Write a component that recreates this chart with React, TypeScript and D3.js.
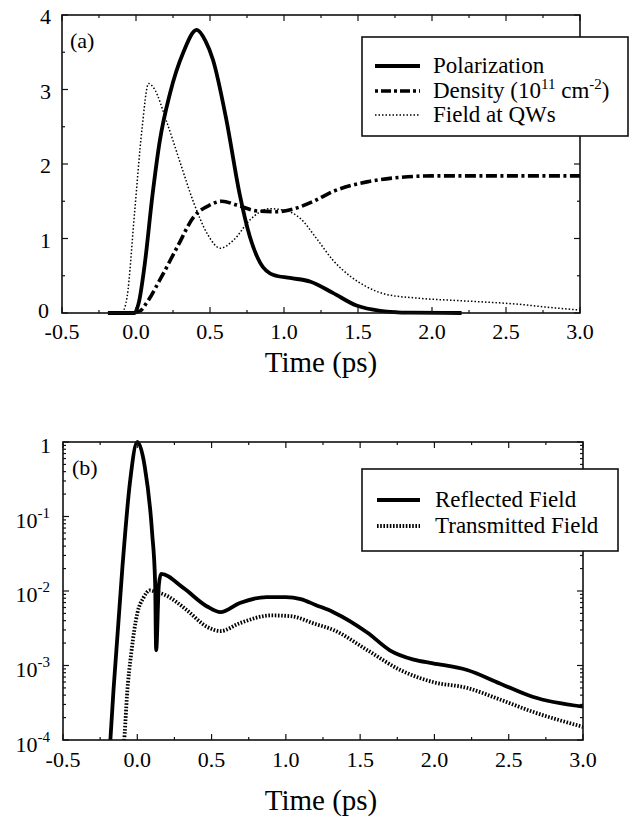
import React, { useEffect, useRef } from "react";
import * as d3 from "d3";

// panel (a) - linear
const polarization: [number, number][] = [
  [-0.19, 0], [-0.01, 0], [0.02, 0.15], [0.06, 0.67], [0.11, 1.56], [0.16, 2.3],
  [0.23, 2.95], [0.32, 3.5], [0.41, 3.8], [0.47, 3.65], [0.52, 3.4], [0.61, 2.6],
  [0.7, 1.6], [0.77, 1.02], [0.84, 0.67], [0.93, 0.51], [1.04, 0.47], [1.18, 0.42],
  [1.33, 0.27], [1.49, 0.1], [1.65, 0.03], [1.85, 0.005], [2.2, 0],
];
const density: [number, number][] = [
  [-0.02, 0], [0.03, 0.03], [0.07, 0.13], [0.16, 0.44], [0.28, 0.89], [0.39, 1.29],
  [0.5, 1.45], [0.58, 1.5], [0.68, 1.45], [0.82, 1.37], [0.95, 1.36], [1.05, 1.39],
  [1.2, 1.5], [1.33, 1.63], [1.56, 1.76], [1.78, 1.82], [2.0, 1.84], [3.0, 1.84],
];
const fieldQW: [number, number][] = [
  [-0.12, 0], [-0.09, 0.02], [-0.06, 0.22], [-0.01, 1.34], [0.04, 2.46], [0.085, 3.08],
  [0.12, 3.02], [0.21, 2.55], [0.3, 2.01], [0.39, 1.48], [0.48, 1.07], [0.57, 0.87],
  [0.66, 0.98], [0.77, 1.25], [0.9, 1.4], [1.0, 1.38], [1.11, 1.27], [1.22, 1.0],
  [1.33, 0.71], [1.45, 0.49], [1.56, 0.35], [1.69, 0.25], [1.9, 0.2], [2.24, 0.16],
  [2.57, 0.12], [2.82, 0.07], [3.0, 0.04],
];

// panel (b) - log
const reflected: [number, number][] = [
  [-0.2, 2.5e-5], [-0.16, 4.7e-4], [-0.1, 0.021], [-0.05, 0.28], [0.0, 1.0],
  [0.05, 0.47], [0.1, 0.06], [0.12, 0.013], [0.127, 1.6e-3], [0.145, 0.012],
  [0.16, 0.017], [0.31, 0.011], [0.47, 6.2e-3], [0.56, 5.2e-3], [0.69, 6.9e-3],
  [0.87, 8.3e-3], [1.0, 8.3e-3], [1.1, 7.8e-3], [1.2, 6.5e-3], [1.32, 5.2e-3],
  [1.55, 2.75e-3], [1.7, 1.6e-3], [1.86, 1.2e-3], [1.99, 1.07e-3], [2.22, 8.7e-4],
  [2.44, 5.75e-4], [2.66, 3.8e-4], [3.0, 2.8e-4],
];
const transmitted: [number, number][] = [
  [-0.1, 5e-5], [-0.085, 1.2e-4], [-0.07, 3.8e-4], [-0.04, 1.5e-3], [0.0, 5.0e-3],
  [0.04, 8e-3], [0.085, 0.0102], [0.12, 9.8e-3], [0.2, 8.6e-3], [0.33, 5.6e-3],
  [0.47, 3.3e-3], [0.56, 2.9e-3], [0.69, 3.7e-3], [0.9, 4.7e-3], [1.03, 4.6e-3],
  [1.2, 3.6e-3], [1.32, 3.0e-3], [1.55, 1.6e-3], [1.77, 8.7e-4], [1.99, 6e-4],
  [2.22, 5e-4], [2.44, 3.5e-4], [2.66, 2.4e-4], [3.0, 1.5e-4],
];

const xTicks = [-0.5, 0, 0.5, 1.0, 1.5, 2.0, 2.5, 3.0];
const yTicksA = [0, 1, 2, 3, 4];
const yTicksB = [1, 1e-1, 1e-2, 1e-3, 1e-4];
const yLabelsB = ["", "-1", "-2", "-3", "-4"];
const legendA = ["Polarization", "Density", "Field at QWs"];
const legendB = ["Reflected Field", "Transmitted Field"];

const FONT = "Liberation Serif, DejaVu Serif, Times New Roman, serif";

function frame(g: any, x: any, y: any, xMinor: number[], yMinor: number[], yMajor: number[]) {
  const [x0, x1] = x.range();
  const [y0, y1] = y.range(); // y0 bottom, y1 top
  const tick = (vals: number[], len: number) => {
    vals.forEach((v) => {
      const px = x(v);
      g.append("line").attr("x1", px).attr("x2", px).attr("y1", y0).attr("y2", y0 - len);
      g.append("line").attr("x1", px).attr("x2", px).attr("y1", y1).attr("y2", y1 + len);
    });
  };
  const tickY = (vals: number[], len: number) => {
    vals.forEach((v) => {
      const py = y(v);
      g.append("line").attr("x1", x0).attr("x2", x0 + len).attr("y1", py).attr("y2", py);
      g.append("line").attr("x1", x1).attr("x2", x1 - len).attr("y1", py).attr("y2", py);
    });
  };
  g.attr("stroke", "#111").attr("stroke-width", 1.2);
  tick(xTicks, 6);
  tick(xMinor, 3);
  tickY(yMajor, 6);
  tickY(yMinor, 3);
  g.append("rect").attr("x", x0).attr("y", y1).attr("width", x1 - x0).attr("height", y0 - y1)
    .attr("fill", "none").attr("stroke", "#111").attr("stroke-width", 1.6);
}

export default function App() {
  const ref = useRef<SVGSVGElement>(null);

  useEffect(() => {
    const svg = d3.select(ref.current);
    svg.selectAll("*").remove();
    svg.append("rect").attr("width", 629).attr("height", 818).attr("fill", "#fff");

    const xMinor = d3.range(-0.25, 3.0, 0.5);

    // ---------- panel (a)
    const xA = d3.scaleLinear().domain([-0.5, 3.0]).range([62, 580]);
    const yA = d3.scaleLinear().domain([0, 4]).range([313, 15]);
    svg.append("clipPath").attr("id", "clipA").append("rect")
      .attr("x", 62).attr("y", 15).attr("width", 518).attr("height", 300);
    const lineA = d3.line<[number, number]>().x((d) => xA(d[0])).y((d) => yA(d[1])).curve(d3.curveMonotoneX);
    const curvesA = svg.append("g").attr("clip-path", "url(#clipA)").attr("fill", "none").attr("stroke", "#000");
    curvesA.append("path").datum(fieldQW).attr("d", lineA).attr("stroke-width", 1.5).attr("stroke-dasharray", "1.5 2");
    curvesA.append("path").datum(density).attr("d", lineA).attr("stroke-width", 3.6).attr("stroke-dasharray", "11 3.5 3 3.5");
    curvesA.append("path").datum(polarization).attr("d", lineA).attr("stroke-width", 3.8).attr("stroke-linejoin", "round");
    frame(svg.append("g"), xA, yA, xMinor, d3.range(0.5, 4, 1), yTicksA);

    const txt = svg.append("g").style("font-family", FONT);
    txt.append("g").selectAll("text").data(xTicks).join("text")
      .attr("x", (d) => xA(d)).attr("y", 339).attr("text-anchor", "middle")
      .attr("font-size", 22).text((d) => d.toFixed(1));
    txt.append("g").selectAll("text").data(yTicksA).join("text")
      .attr("x", (d) => (d === 0 ? 49 : 51)).attr("y", (d) => yA(d) + (d === 0 ? 5 : 9)).attr("text-anchor", "end")
      .attr("font-size", 22).text((d) => String(d));
    txt.append("text").attr("x", 321).attr("y", 372).attr("text-anchor", "middle")
      .attr("font-size", 29).text("Time (ps)");
    txt.append("text").attr("x", 70).attr("y", 48)
      .attr("font-size", 22).text("(a)");

    // legend (a)
    const lgA = svg.append("g").style("font-family", FONT);
    lgA.append("rect").attr("x", 362).attr("y", 37).attr("width", 266).attr("height", 99)
      .attr("fill", "#fff").attr("stroke", "#111").attr("stroke-width", 1.6);
    const baseA = [73, 98, 122];
    const styleA = [
      { w: 3.8, dash: "none" },
      { w: 3.6, dash: "3 3 10 3" },
      { w: 1.5, dash: "1.5 2" },
    ];
    legendA.forEach((name, i) => {
      lgA.append("line").attr("x1", 375).attr("x2", 420).attr("y1", baseA[i] - 7).attr("y2", baseA[i] - 7)
        .attr("stroke", "#000").attr("stroke-width", styleA[i].w).attr("stroke-dasharray", styleA[i].dash);
      const t = lgA.append("text").attr("x", 433).attr("y", baseA[i])
        .attr("font-size", 23).text(name);
      if (i === 1) {
        t.append("tspan").text(" (10");
        t.append("tspan").attr("dy", -9).attr("font-size", 15).text("11");
        t.append("tspan").attr("dy", 9).text(" cm");
        t.append("tspan").attr("dy", -9).attr("font-size", 15).text("-2");
        t.append("tspan").attr("dy", 9).text(")");
      }
    });

    // ---------- panel (b)
    const xB = d3.scaleLinear().domain([-0.5, 3.0]).range([63, 583]);
    const yB = d3.scaleLog().domain([1e-4, 1]).range([740, 442]);
    svg.append("clipPath").attr("id", "clipB").append("rect")
      .attr("x", 63).attr("y", 440).attr("width", 520).attr("height", 300);
    const lineB = d3.line<[number, number]>().x((d) => xB(d[0])).y((d) => yB(d[1])).curve(d3.curveMonotoneX);
    const curvesB = svg.append("g").attr("clip-path", "url(#clipB)").attr("fill", "none").attr("stroke", "#000");
    curvesB.append("path").datum(transmitted).attr("d", lineB).attr("stroke-width", 3.8).attr("stroke-dasharray", "1.6 1.6");
    curvesB.append("path").datum(reflected).attr("d", lineB).attr("stroke-width", 3.8).attr("stroke-linejoin", "round");
    const logMinor: number[] = [];
    [1e-4, 1e-3, 1e-2, 1e-1].forEach((d) => d3.range(2, 10).forEach((k) => logMinor.push(d * k)));
    frame(svg.append("g"), xB, yB, xMinor, logMinor, yTicksB);

    const txtB = svg.append("g").style("font-family", FONT);
    txtB.append("g").selectAll("text").data(xTicks).join("text")
      .attr("x", (d) => xB(d)).attr("y", 767).attr("text-anchor", "middle")
      .attr("font-size", 22).text((d) => d.toFixed(1));
    yTicksB.forEach((v, i) => {
      const t = txtB.append("text").attr("x", i === 0 ? 51 : 50).attr("y", yB(v) + (i === 4 ? 12 : 11))
        .attr("text-anchor", "end").attr("font-size", 22);
      if (i === 0) {
        t.text("1");
      } else {
        t.append("tspan").text("10");
        t.append("tspan").attr("dy", -10).attr("font-size", 15).text(yLabelsB[i]);
      }
    });
    txtB.append("text").attr("x", 321).attr("y", 810).attr("text-anchor", "middle")
      .attr("font-size", 29).text("Time (ps)");
    txtB.append("text").attr("x", 72).attr("y", 475)
      .attr("font-size", 22).text("(b)");

    // legend (b)
    const lgB = svg.append("g").style("font-family", FONT);
    lgB.append("rect").attr("x", 362).attr("y", 469).attr("width", 256).attr("height", 82)
      .attr("fill", "#fff").attr("stroke", "#111").attr("stroke-width", 1.6);
    const baseB = [507, 533];
    const styleB = [
      { w: 3.8, dash: "none" },
      { w: 3.8, dash: "1.6 1.6" },
    ];
    legendB.forEach((name, i) => {
      lgB.append("line").attr("x1", 377).attr("x2", 420).attr("y1", baseB[i] - 7).attr("y2", baseB[i] - 7)
        .attr("stroke", "#000").attr("stroke-width", styleB[i].w).attr("stroke-dasharray", styleB[i].dash);
      lgB.append("text").attr("x", 435).attr("y", baseB[i])
        .attr("font-size", 23).text(name);
    });
  }, []);

  return (
    <svg
      ref={ref}
      width={629}
      height={818}
      style={{ position: "absolute", left: 0, top: 0, display: "block" }}
    />
  );
}
